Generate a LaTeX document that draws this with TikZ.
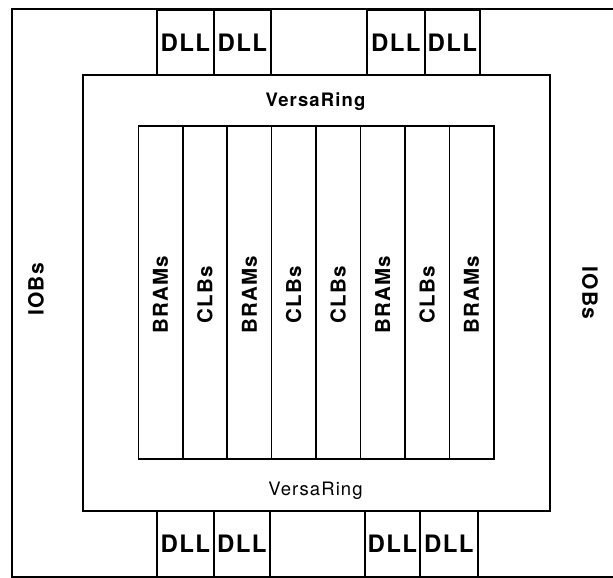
\documentclass[tikz,border=0pt]{standalone}
\usepackage{fontspec}
\newfontfamily\lblfont{TeX Gyre Heros}[LetterSpace=6]
\begin{document}
\begin{tikzpicture}[x=1pt,y=-1pt,line width=1.6pt,
  lbl/.style={font=\lblfont\bfseries\fontsize{#1}{#1}\selectfont,inner sep=0pt,text depth=0pt,text height=0.72*#1 pt},
  blk/.style={draw,inner sep=0pt,anchor=north west},
  col/.style={blk,minimum width=44.44pt,minimum height=333pt}]
\useasboundingbox (0,0) rectangle (613,578);
% outer IOB frame (its right edge lies outside the picture)
\coordinate (otr) at (616,9);
\coordinate (otl) at (12,9);
\coordinate (obl) at (12,577);
\coordinate (obr) at (616,577);
\draw (otr) -- (otl) -- (obl) -- (obr);
\node[lbl=21,rotate=90] (iobL) at (36,289.5) {IOBs};
\node[lbl=21,rotate=-90] (iobR) at (590,293) {IOBs};
% DLLs top
\node[blk,minimum width=57pt,minimum height=65pt] (dt1) at (156,9) {};
\node[blk,minimum width=57pt,minimum height=65pt] (dt2) at (213,9) {};
\node[blk,minimum width=58pt,minimum height=65pt] (dt3) at (366,9) {};
\node[blk,minimum width=55pt,minimum height=65pt] (dt4) at (424,9) {};
% DLLs bottom
\node[blk,minimum width=57pt,minimum height=67pt] (db1) at (156,510) {};
\node[blk,minimum width=56pt,minimum height=67pt] (db2) at (213,510) {};
\node[blk,minimum width=55pt,minimum height=67pt] (db3) at (364,510) {};
\node[blk,minimum width=58pt,minimum height=67pt] (db4) at (419,510) {};
\foreach \n in {dt1,dt2,dt3,dt4}{\node[lbl=24] at ([yshift=-0.5pt]\n.center) {DLL};}
\foreach \n in {db1,db2,db3,db4}{\node[lbl=24] at (\n.center) {DLL};}
% VersaRing
\node[blk,fill=white,minimum width=467pt,minimum height=436pt] (vr) at (82,74) {};
\node[lbl=18.5] (vrT) at (315.5,100) {VersaRing};
\node[lbl=18.5,font=\lblfont\fontsize{18.5}{18.5}\selectfont] (vrB) at (315.5,489) {VersaRing};
% core columns
\foreach \i/\t in {0/BRAMs,1/CLBs,2/BRAMs,3/CLBs,4/CLBs,5/BRAMs,6/CLBs,7/BRAMs}{
  \node[col] (c\i) at (137.5+44.44*\i,125) {};
  \node[lbl=20.5,rotate=90] (t\i) at ([yshift=-2.5pt]c\i.center) {\t};
}
\end{tikzpicture}
\end{document}
